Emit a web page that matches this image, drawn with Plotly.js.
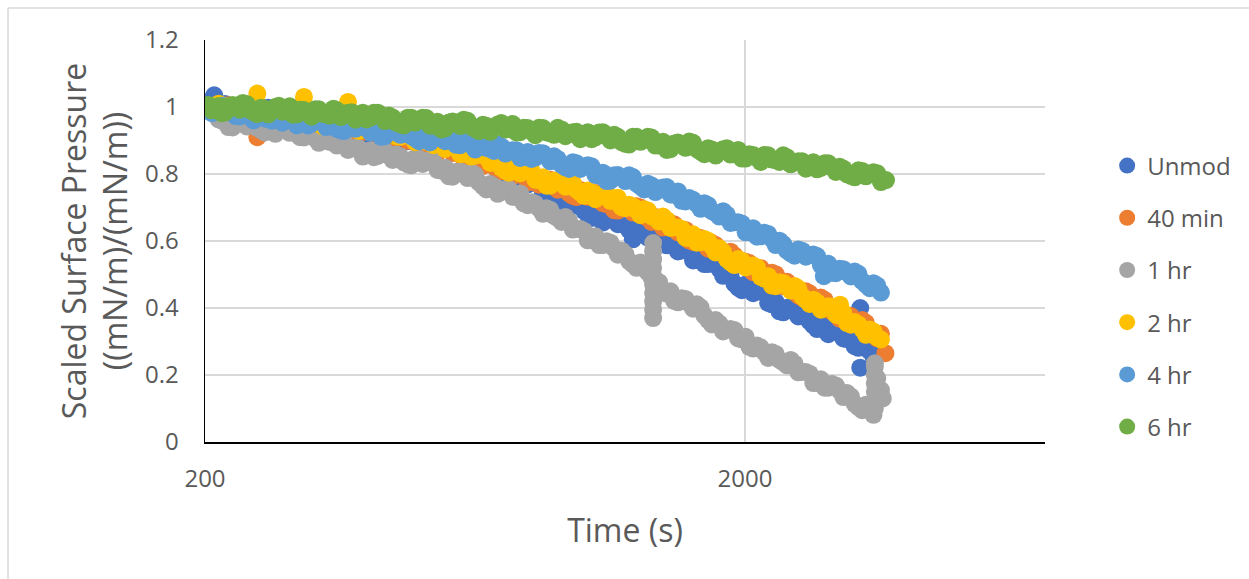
<!DOCTYPE html>
<html>
<head>
<meta charset="utf-8">
<script src="https://cdn.plot.ly/plotly-3.0.1.min.js"></script>
<style>
  html, body { margin: 0; padding: 0; background: #ffffff; }
  #chart { width: 1249px; height: 579px; }
</style>
</head>
<body>
<div id="chart"></div>
<script>
// Sampling times (s): main readings and the readings taken between them
const timeS = [200, 206, 212, 218, 225, 232, 239, 246, 254, 262, 270, 278, 287, 296, 305, 315, 325, 335, 346, 357,
  368, 380, 392, 405, 418, 431, 445, 460, 475, 490, 506, 522, 539, 557, 575, 594, 613, 633, 654, 675,
  697, 720, 743, 767, 792, 818, 845, 872, 900, 930, 960, 991, 1023, 1057, 1091, 1127, 1163, 1201, 1240, 1281,
  1322, 1365, 1410, 1456, 1503, 1552, 1603, 1655, 1709, 1765, 1822, 1881, 1943, 2006, 2071, 2139, 2208, 2280, 2355, 2431,
  2511, 2593, 2677, 2764, 2854, 2947, 3043, 3142, 3245, 3350, 3460, 3572];
const timeMid = [203, 209, 215, 221, 228, 235, 242, 250, 258, 266, 274, 282, 291, 300, 310, 320, 330, 340, 351, 362,
  374, 386, 398, 411, 424, 438, 452, 467, 482, 498, 514, 530, 548, 566, 584, 603, 623, 643, 664, 686,
  708, 731, 755, 779, 805, 831, 858, 886, 915, 945, 975, 1007, 1040, 1074, 1109, 1145, 1182, 1220, 1260, 1301,
  1343, 1387, 1433, 1479, 1527, 1577, 1629, 1682, 1737, 1793, 1851, 1912, 1974, 2038, 2105, 2173, 2244, 2317, 2393, 2471,
  2552, 2635, 2720, 2809, 2900, 2995, 3092, 3193, 3297, 3405, 3516];

// Scaled surface pressure, one set of arrays per modification time
const unmod = [1.000, 1.008, 0.993, 1.009, 0.985, 0.997, 0.977, 0.998, 0.984, 0.998, 0.972, 0.982, 0.959, 0.978, 0.962, 0.975, 0.948, 0.958, 0.935, 0.953,
  0.936, 0.950, 0.923, 0.933, 0.910, 0.929, 0.912, 0.925, 0.898, 0.908, 0.884, 0.901, 0.882, 0.895, 0.866, 0.875, 0.850, 0.864, 0.839, 0.846,
  0.811, 0.814, 0.782, 0.794, 0.769, 0.776, 0.742, 0.746, 0.716, 0.729, 0.705, 0.713, 0.679, 0.684, 0.655, 0.671, 0.650, 0.661, 0.631, 0.638,
  0.610, 0.621, 0.596, 0.603, 0.569, 0.572, 0.542, 0.556, 0.531, 0.535, 0.496, 0.496, 0.461, 0.470, 0.444, 0.451, 0.415, 0.418, 0.387, 0.400,
  0.375, 0.383, 0.348, 0.352, 0.322, 0.333, 0.309, 0.316, 0.281, 0.285, 0.255, 0.271];
const unmodMid = [1.015, 0.995, 0.988, 1.004, 0.992, 0.998, 0.982, 0.978, 0.998, 0.986, 0.988, 0.965, 0.956, 0.977, 0.970, 0.973, 0.947, 0.934, 0.951, 0.946,
  0.954, 0.931, 0.915, 0.929, 0.921, 0.932, 0.913, 0.899, 0.910, 0.897, 0.904, 0.886, 0.876, 0.888, 0.872, 0.874, 0.851, 0.839, 0.850, 0.830,
  0.824, 0.792, 0.775, 0.789, 0.774, 0.770, 0.738, 0.718, 0.730, 0.718, 0.720, 0.690, 0.669, 0.677, 0.664, 0.672, 0.650, 0.633, 0.642, 0.625,
  0.627, 0.603, 0.587, 0.593, 0.572, 0.568, 0.543, 0.531, 0.540, 0.517, 0.507, 0.473, 0.453, 0.464, 0.449, 0.444, 0.411, 0.390, 0.401, 0.389,
  0.390, 0.360, 0.337, 0.344, 0.329, 0.332, 0.307, 0.286, 0.290, 0.271, 0.274];
const unmodExtraT = [208, 1240, 3270, 3270];
const unmodExtraV = [1.035, 0.605, 0.400, 0.222];

const min40 = [1.000, 1.003, 0.980, 1.002, 0.985, 1.001, 0.976, 0.988, 0.966, 0.983, 0.968, 0.983, 0.957, 0.968, 0.946, 0.966, 0.950, 0.965, 0.939, 0.949,
  0.927, 0.943, 0.926, 0.941, 0.915, 0.924, 0.900, 0.917, 0.899, 0.911, 0.882, 0.890, 0.864, 0.881, 0.863, 0.875, 0.845, 0.852, 0.824, 0.839,
  0.816, 0.826, 0.794, 0.799, 0.775, 0.791, 0.771, 0.783, 0.753, 0.761, 0.735, 0.752, 0.732, 0.743, 0.713, 0.719, 0.691, 0.706, 0.685, 0.700,
  0.668, 0.672, 0.640, 0.652, 0.626, 0.633, 0.597, 0.609, 0.577, 0.588, 0.562, 0.568, 0.532, 0.538, 0.507, 0.519, 0.494, 0.501, 0.465, 0.469,
  0.438, 0.450, 0.424, 0.431, 0.395, 0.397, 0.365, 0.376, 0.350, 0.356, 0.320, 0.323];
const min40Mid = [0.989, 0.999, 0.992, 1.005, 0.987, 0.976, 0.989, 0.978, 0.986, 0.970, 0.963, 0.977, 0.964, 0.968, 0.950, 0.945, 0.965, 0.953, 0.955, 0.932,
  0.922, 0.942, 0.935, 0.939, 0.914, 0.899, 0.916, 0.909, 0.916, 0.891, 0.873, 0.884, 0.874, 0.883, 0.863, 0.847, 0.856, 0.839, 0.843, 0.822,
  0.808, 0.817, 0.798, 0.798, 0.777, 0.768, 0.784, 0.769, 0.768, 0.742, 0.731, 0.749, 0.739, 0.739, 0.710, 0.692, 0.706, 0.697, 0.704, 0.678,
  0.657, 0.663, 0.647, 0.650, 0.624, 0.602, 0.610, 0.594, 0.594, 0.569, 0.552, 0.557, 0.536, 0.534, 0.507, 0.494, 0.505, 0.484, 0.478, 0.448,
  0.431, 0.444, 0.429, 0.424, 0.390, 0.368, 0.378, 0.364, 0.364, 0.332, 0.309];
const min40ExtraT = [250, 3640];
const min40ExtraV = [0.910, 0.265];

const hr1 = [1.000, 0.999, 0.963, 0.966, 0.939, 0.959, 0.942, 0.957, 0.931, 0.942, 0.920, 0.939, 0.923, 0.937, 0.909, 0.917, 0.893, 0.911, 0.893, 0.903,
  0.872, 0.878, 0.852, 0.871, 0.854, 0.868, 0.842, 0.852, 0.829, 0.848, 0.830, 0.842, 0.812, 0.819, 0.792, 0.808, 0.788, 0.797, 0.764, 0.770,
  0.741, 0.755, 0.732, 0.742, 0.707, 0.711, 0.681, 0.693, 0.668, 0.672, 0.634, 0.636, 0.602, 0.614, 0.588, 0.595, 0.559, 0.561, 0.530, 0.536,
  0.506, 0.484, 0.448, 0.450, 0.417, 0.427, 0.398, 0.402, 0.364, 0.364, 0.330, 0.337, 0.309, 0.314, 0.279, 0.282, 0.251, 0.263, 0.238, 0.245,
  0.208, 0.209, 0.176, 0.187, 0.162, 0.169, 0.134, 0.136, 0.104, 0.111, 0.081, 0.155];
const hr1Mid = [1.000, 0.992, 0.959, 0.940, 0.956, 0.952, 0.961, 0.938, 0.924, 0.938, 0.931, 0.942, 0.924, 0.910, 0.920, 0.906, 0.913, 0.896, 0.885, 0.895,
  0.876, 0.876, 0.856, 0.850, 0.868, 0.856, 0.858, 0.835, 0.826, 0.846, 0.837, 0.838, 0.810, 0.793, 0.807, 0.799, 0.804, 0.775, 0.754, 0.763,
  0.749, 0.755, 0.731, 0.712, 0.716, 0.697, 0.698, 0.675, 0.657, 0.660, 0.636, 0.630, 0.602, 0.588, 0.599, 0.578, 0.571, 0.540, 0.520, 0.528,
  0.490, 0.477, 0.443, 0.421, 0.429, 0.414, 0.411, 0.377, 0.351, 0.354, 0.335, 0.334, 0.306, 0.284, 0.288, 0.268, 0.268, 0.245, 0.229, 0.234,
  0.210, 0.204, 0.176, 0.162, 0.173, 0.153, 0.146, 0.114, 0.095, 0.103, 0.190];
const hr1ExtraT = [1352, 1352, 1352, 1352, 1352, 1352, 1352, 1352, 1352, 1352, 3480, 3480, 3480, 3480, 3480, 3480, 3480, 3600];
const hr1ExtraV = [0.594, 0.570, 0.545, 0.520, 0.495, 0.470, 0.445, 0.420, 0.395, 0.370, 0.100, 0.125, 0.150, 0.175, 0.200, 0.225, 0.235, 0.130];

const hr2 = [1.000, 0.994, 1.010, 0.986, 0.997, 0.976, 0.998, 0.983, 0.999, 0.973, 0.985, 0.963, 0.983, 0.967, 0.982, 0.956, 0.967, 0.945, 0.965, 0.948,
  0.963, 0.937, 0.947, 0.925, 0.945, 0.927, 0.940, 0.911, 0.920, 0.895, 0.912, 0.893, 0.904, 0.875, 0.884, 0.859, 0.875, 0.855, 0.864, 0.833,
  0.837, 0.810, 0.824, 0.802, 0.813, 0.783, 0.790, 0.765, 0.781, 0.762, 0.773, 0.744, 0.751, 0.725, 0.741, 0.720, 0.729, 0.698, 0.704, 0.677,
  0.691, 0.668, 0.673, 0.639, 0.640, 0.610, 0.620, 0.596, 0.601, 0.566, 0.567, 0.536, 0.546, 0.521, 0.527, 0.493, 0.495, 0.465, 0.475, 0.452,
  0.458, 0.424, 0.425, 0.395, 0.405, 0.380, 0.385, 0.350, 0.351, 0.320, 0.330, 0.306];
const hr2Mid = [0.991, 0.989, 1.005, 0.993, 0.998, 0.981, 0.978, 0.998, 0.987, 0.990, 0.968, 0.960, 0.982, 0.976, 0.980, 0.956, 0.943, 0.962, 0.958, 0.967,
  0.944, 0.929, 0.943, 0.936, 0.947, 0.928, 0.913, 0.923, 0.909, 0.915, 0.897, 0.886, 0.897, 0.881, 0.883, 0.861, 0.852, 0.867, 0.850, 0.846,
  0.818, 0.804, 0.820, 0.809, 0.809, 0.781, 0.765, 0.780, 0.773, 0.779, 0.753, 0.735, 0.745, 0.734, 0.742, 0.719, 0.701, 0.708, 0.692, 0.695,
  0.674, 0.658, 0.663, 0.641, 0.636, 0.609, 0.595, 0.606, 0.585, 0.578, 0.546, 0.528, 0.541, 0.525, 0.521, 0.488, 0.467, 0.477, 0.465, 0.466,
  0.435, 0.412, 0.417, 0.401, 0.404, 0.377, 0.355, 0.358, 0.337, 0.336, 0.312];
const hr2ExtraT = [250, 305, 368, 3000];
const hr2ExtraV = [1.040, 1.030, 1.015, 0.410];

const hr4 = [1.000, 0.982, 1.001, 0.985, 0.999, 0.972, 0.982, 0.960, 0.979, 0.964, 0.979, 0.953, 0.965, 0.945, 0.966, 0.950, 0.966, 0.940, 0.952, 0.930,
  0.951, 0.935, 0.950, 0.924, 0.935, 0.913, 0.933, 0.917, 0.932, 0.906, 0.916, 0.894, 0.914, 0.898, 0.913, 0.886, 0.896, 0.873, 0.892, 0.875,
  0.888, 0.861, 0.871, 0.848, 0.866, 0.849, 0.862, 0.838, 0.845, 0.820, 0.835, 0.815, 0.826, 0.797, 0.804, 0.780, 0.797, 0.779, 0.791, 0.763,
  0.771, 0.746, 0.760, 0.739, 0.748, 0.718, 0.723, 0.696, 0.707, 0.683, 0.689, 0.654, 0.656, 0.626, 0.638, 0.614, 0.621, 0.588, 0.591, 0.563,
  0.575, 0.553, 0.560, 0.528, 0.532, 0.504, 0.516, 0.494, 0.502, 0.470, 0.474, 0.446];
const hr4Mid = [0.998, 0.993, 1.004, 0.986, 0.973, 0.984, 0.972, 0.981, 0.966, 0.959, 0.973, 0.960, 0.966, 0.950, 0.945, 0.965, 0.954, 0.957, 0.935, 0.928,
  0.950, 0.944, 0.948, 0.924, 0.911, 0.930, 0.926, 0.936, 0.913, 0.898, 0.912, 0.905, 0.917, 0.900, 0.887, 0.898, 0.886, 0.894, 0.878, 0.869,
  0.882, 0.867, 0.871, 0.851, 0.845, 0.863, 0.851, 0.853, 0.827, 0.815, 0.832, 0.822, 0.823, 0.795, 0.779, 0.796, 0.789, 0.796, 0.771, 0.754,
  0.766, 0.754, 0.761, 0.738, 0.720, 0.728, 0.711, 0.713, 0.689, 0.673, 0.679, 0.656, 0.652, 0.626, 0.613, 0.625, 0.606, 0.601, 0.571, 0.556,
  0.571, 0.558, 0.555, 0.524, 0.505, 0.517, 0.506, 0.509, 0.480, 0.459, 0.467];
const hr4ExtraT = [2800];
const hr4ExtraV = [0.495];

const hr6 = [1.000, 0.990, 1.003, 0.984, 1.006, 0.992, 1.009, 0.985, 0.998, 0.978, 1.000, 0.986, 1.002, 0.978, 0.991, 0.971, 0.993, 0.978, 0.995, 0.970,
  0.983, 0.962, 0.983, 0.968, 0.983, 0.958, 0.969, 0.948, 0.968, 0.953, 0.968, 0.944, 0.956, 0.936, 0.957, 0.943, 0.959, 0.935, 0.947, 0.926,
  0.948, 0.933, 0.949, 0.925, 0.937, 0.916, 0.937, 0.922, 0.938, 0.913, 0.925, 0.904, 0.925, 0.909, 0.925, 0.900, 0.911, 0.890, 0.911, 0.896,
  0.911, 0.885, 0.896, 0.874, 0.894, 0.878, 0.893, 0.867, 0.877, 0.855, 0.874, 0.858, 0.872, 0.846, 0.857, 0.836, 0.856, 0.841, 0.856, 0.829,
  0.838, 0.816, 0.835, 0.818, 0.832, 0.806, 0.816, 0.794, 0.811, 0.793, 0.805, 0.776];
const hr6Mid = [1.006, 0.991, 0.981, 1.002, 1.000, 1.012, 0.991, 0.979, 0.995, 0.990, 1.004, 0.988, 0.977, 0.992, 0.982, 0.993, 0.980, 0.974, 0.990, 0.978,
  0.984, 0.967, 0.963, 0.983, 0.972, 0.975, 0.953, 0.945, 0.968, 0.962, 0.967, 0.944, 0.933, 0.954, 0.951, 0.962, 0.941, 0.928, 0.944, 0.938,
  0.952, 0.935, 0.924, 0.938, 0.928, 0.938, 0.924, 0.917, 0.933, 0.920, 0.926, 0.909, 0.904, 0.924, 0.914, 0.917, 0.895, 0.888, 0.911, 0.905,
  0.909, 0.885, 0.872, 0.891, 0.887, 0.897, 0.874, 0.859, 0.873, 0.866, 0.877, 0.859, 0.846, 0.859, 0.848, 0.857, 0.843, 0.836, 0.850, 0.835,
  0.838, 0.820, 0.814, 0.832, 0.820, 0.822, 0.799, 0.790, 0.809, 0.800, 0.802];
const hr6ExtraT = [3650];
const hr6ExtraV = [0.782];

const seriesNames = ['Unmod', '40 min', '1 hr', '2 hr', '4 hr', '6 hr'];
const seriesColors = ['#4472C4', '#ED7D31', '#A5A5A5', '#FFC000', '#5B9BD5', '#70AD47'];
const seriesValues = [unmod, min40, hr1, hr2, hr4, hr6];
const seriesMidValues = [unmodMid, min40Mid, hr1Mid, hr2Mid, hr4Mid, hr6Mid];
const extraTimes = [unmodExtraT, min40ExtraT, hr1ExtraT, hr2ExtraT, hr4ExtraT, hr6ExtraT];
const extraValues = [unmodExtraV, min40ExtraV, hr1ExtraV, hr2ExtraV, hr4ExtraV, hr6ExtraV];

const yTickVals = [0, 0.2, 0.4, 0.6, 0.8, 1, 1.2];
const yTickText = ['0', '0.2', '0.4', '0.6', '0.8', '1', '1.2'];
const xTickVals = [200, 2000];
const xTickText = ['200', '2000'];

const traces = seriesNames.map((name, i) => ({
  type: 'scatter',
  mode: 'markers',
  name: name,
  legendgroup: name,
  x: timeS.concat(timeMid, extraTimes[i]),
  y: seriesValues[i].concat(seriesMidValues[i], extraValues[i]),
  marker: { color: seriesColors[i], size: 18, line: { width: 0 } },
  hoverinfo: 'x+y+name'
}));

const textColor = '#595959';
const gridColor = '#d9d9d9';

const layout = {
  width: 1249,
  height: 579,
  margin: { l: 205, r: 204, t: 40, b: 137 },
  paper_bgcolor: '#ffffff',
  plot_bgcolor: '#ffffff',
  font: { family: '"Open Sans", "DejaVu Sans", sans-serif', color: textColor, size: 24 },
  showlegend: true,
  legend: {
    x: 1.074, xanchor: 'left',
    y: 0.362, yanchor: 'middle',
    font: { size: 24, color: textColor },
    tracegroupgap: 18,
    bgcolor: 'rgba(0,0,0,0)'
  },
  xaxis: {
    type: 'log',
    range: [Math.log10(200), Math.log10(7190)],
    tickvals: xTickVals,
    ticktext: xTickText,
    ticks: 'outside',
    ticklen: 14,
    tickcolor: 'rgba(0,0,0,0)',
    tickfont: { size: 24, color: textColor },
    showline: true,
    linecolor: '#000000',
    linewidth: 2,
    showgrid: true,
    gridcolor: gridColor,
    gridwidth: 1.5,
    zeroline: false,
    automargin: false,
    title: { text: 'Time (s)', font: { size: 32, color: textColor }, standoff: 27 }
  },
  yaxis: {
    range: [0, 1.2],
    tickvals: yTickVals,
    ticktext: yTickText,
    ticks: 'outside',
    ticklen: 20,
    tickcolor: 'rgba(0,0,0,0)',
    tickfont: { size: 24, color: textColor },
    showline: true,
    linecolor: '#000000',
    linewidth: 1.5,
    showgrid: true,
    gridcolor: gridColor,
    gridwidth: 1.5,
    zeroline: false,
    automargin: false,
    title: { text: 'Scaled Surface Pressure<br>((mN/m)/(mN/m))', font: { size: 32, color: textColor }, standoff: 7 }
  },
  shapes: [
    { type: 'line', xref: 'paper', yref: 'paper', x0: -0.2345, x1: -0.2345, y0: -0.5, y1: 1.0796,
      line: { color: gridColor, width: 1.5 } },
    { type: 'line', xref: 'paper', yref: 'paper', x0: -0.2345, x1: 1.5, y0: 1.0796, y1: 1.0796,
      line: { color: gridColor, width: 1.5 } }
  ]
};

Plotly.newPlot('chart', traces, layout, { staticPlot: true, displayModeBar: false });
</script>
</body>
</html>
